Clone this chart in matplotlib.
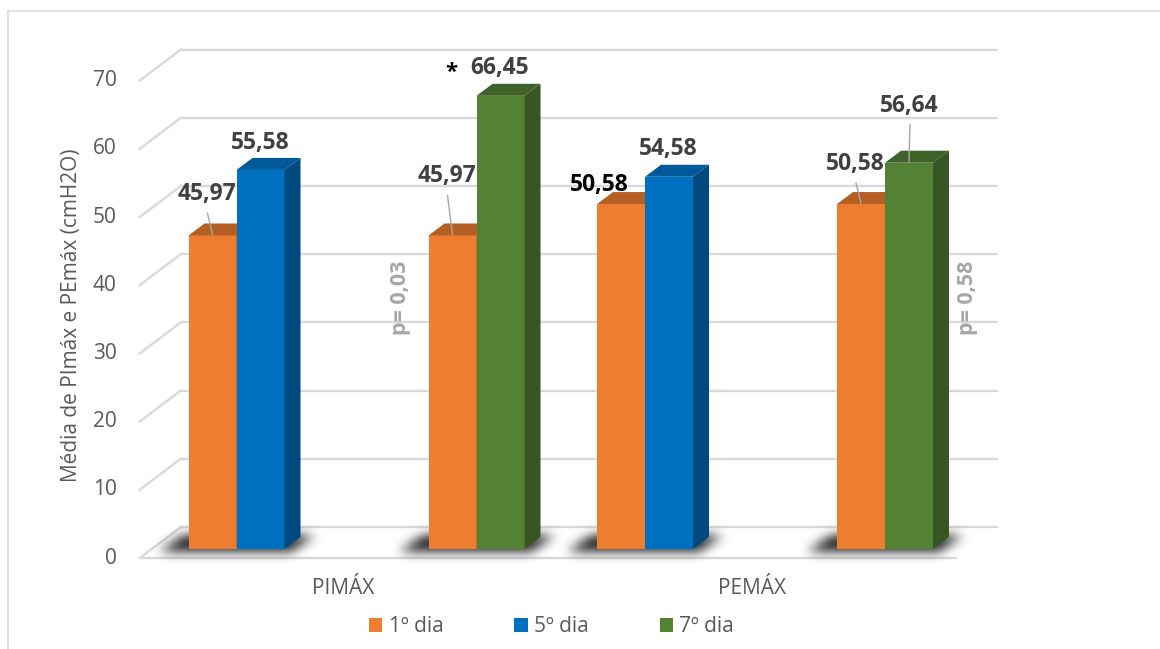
import numpy as np
import matplotlib
matplotlib.use('Agg')
import matplotlib.pyplot as plt
from matplotlib.patches import Polygon, Rectangle, Patch
from matplotlib.lines import Line2D
from matplotlib.path import Path

plt.rcParams['font.family'] = ['Open Sans', 'DejaVu Sans']

categories = ['PIMÁX', 'PEMÁX']
day_labels = ['1º dia', '5º dia', '7º dia']
# two comparisons per category: 1º vs 5º dia, then 1º vs 7º dia
first_day = [45.97, 45.97, 50.58, 50.58]
later_day = [55.58, 66.45, 54.58, 56.64]
later_series = [1, 2, 1, 2]
significant = [False, True, False, False]
p_values = ['p= 0,03', 'p= 0,58']

front_colors = ['#ED7D31', '#0070C0', '#548235']
top_colors = ['#B65F25', '#00599A', '#3E6228']
side_colors = ['#A9561F', '#004A80', '#375623']
grid_col = '#D9D9D9'
text_col = '#595959'
label_col = '#404040'

fig = plt.figure(figsize=(11.6, 6.49), dpi=100)
W, H = 1160, 649
ax = fig.add_axes([151.75 / W, 100 / H, 817 / W, 477.4 / H])
ax.set_xlim(-0.5, 1.5)
ax.set_ylim(0, 70)
ax.set_autoscale_on(False)
ax.axis('off')

# pixel -> data unit scales
p0 = ax.transData.transform((0, 0))
sx = ax.transData.transform((1, 0))[0] - p0[0]
sy = ax.transData.transform((0, 1))[1] - p0[1]
ux, uy = 1 / sx, 1 / sy

# planes of the fake 3d box, relative to the bar plane (in pixels)
fx, fy = -12 * ux, -9 * uy     # front edge
bx, by = 29 * ux, 22 * uy      # back wall
dx, dy = 16 * ux, 12 * uy      # bar depth

# back wall grid + left side lines
for v in range(0, 80, 10):
    ax.plot([-0.5 + bx, 1.5 + bx], [v + by, v + by], color=grid_col, lw=1.7,
            clip_on=False, zorder=1, solid_capstyle='butt')
    ax.plot([-0.5 + fx, -0.5 + bx], [v + fy, v + by], color=grid_col, lw=1.7,
            clip_on=False, zorder=1)
    ax.text(-0.5 + fx - 23 * ux, v + fy, str(v), ha='right', va='center',
            fontsize=15, color=text_col)
# front edge of floor
ax.plot([-0.5 + fx, 1.5 + fx], [fy, fy], color=grid_col, lw=1.7, clip_on=False,
        zorder=1, solid_capstyle='butt')

slot_w = 0.1175
slot_start = -0.41
lefts = []
for k in range(len(first_day)):
    cat, comp = divmod(k, 2)
    lefts.append(cat + slot_start + (0 if comp == 0 else 5) * slot_w)


def soft_shadow(xl, xr):
    # blurred footprint of a pair of bars, pushed to the front-left
    pts = np.array([[xl - 30 * ux, -3 * uy], [xr + 6 * ux, -3 * uy],
                    [xr + 30 * ux, 13 * uy], [xl - 6 * ux, 13 * uy]])
    pad_x, pad_y = 24 * ux, 24 * uy
    x0, x1 = pts[:, 0].min() - pad_x, pts[:, 0].max() + pad_x
    y0, y1 = pts[:, 1].min() - pad_y, pts[:, 1].max() + pad_y
    nx, ny = int((x1 - x0) * sx), int((y1 - y0) * sy)
    gx = np.linspace(x0, x1, nx)
    gy = np.linspace(y0, y1, ny)
    XX, YY = np.meshgrid(gx, gy)
    mask = Path(pts).contains_points(np.c_[XX.ravel(), YY.ravel()]).reshape(ny, nx)
    mask = mask.astype(float)
    t = np.arange(-15, 16)
    kern = np.exp(-t ** 2 / (2 * 5.5 ** 2))
    kern /= kern.sum()
    mask = np.apply_along_axis(lambda r: np.convolve(r, kern, mode='same'), 1, mask)
    mask = np.apply_along_axis(lambda c: np.convolve(c, kern, mode='same'), 0, mask)
    rgba = np.zeros((ny, nx, 4))
    rgba[..., :3] = 0.12
    rgba[..., 3] = np.clip(mask * 1.1, 0, 1) * 0.92
    im = ax.imshow(rgba, extent=(x0, x1, y0, y1), origin='lower', aspect='auto',
                   interpolation='bilinear', zorder=2)
    im.set_clip_on(False)


def box_bar(x, h, s, z):
    ax.add_patch(Rectangle((x, 0), slot_w, h, facecolor=front_colors[s],
                           edgecolor='none', zorder=z, clip_on=False))
    ax.add_patch(Polygon([(x, h), (x + slot_w, h), (x + slot_w + dx, h + dy),
                          (x + dx, h + dy)], closed=True, facecolor=top_colors[s],
                         edgecolor='none', zorder=z, clip_on=False))
    ax.add_patch(Polygon([(x + slot_w, 0), (x + slot_w, h), (x + slot_w + dx, h + dy),
                          (x + slot_w + dx, dy)], closed=True, facecolor=side_colors[s],
                         edgecolor='none', zorder=z, clip_on=False))


for k in range(len(first_day)):
    soft_shadow(lefts[k], lefts[k] + 2 * slot_w)

for k in range(len(first_day)):
    box_bar(lefts[k], first_day[k], 0, 3 + k)
    box_bar(lefts[k] + slot_w, later_day[k], later_series[k], 3 + k)

# value labels: pixel offsets from the centre of each bar's front top edge
first_off = [(-6, 41), (-6, 59), (-21.5, 19), (-6, 40)]
first_lead = [True, True, False, True]
first_color = [label_col, label_col, 'black', label_col]
later_off = [(0, 27), (-1, 27.5), (-1, 28), (0, 57)]
later_lead = [False, False, False, True]


def fmt(v):
    return f'{v:.2f}'.replace('.', ',')


def value_label(xc, h, off, lead, color):
    tx, ty = xc + off[0] * ux, h + off[1] * uy
    ax.text(tx, ty, fmt(h), ha='center', va='center', fontsize=16.5,
            fontweight='bold', color=color, zorder=20)
    if lead:
        ax.plot([tx + 1 * ux, xc], [ty - 19 * uy, h + 1 * uy], color='#A6A6A6',
                lw=1, zorder=20, clip_on=False)


for k in range(len(first_day)):
    c1 = lefts[k] + slot_w / 2
    c2 = c1 + slot_w
    value_label(c1, first_day[k], first_off[k], first_lead[k], first_color[k])
    value_label(c2, later_day[k], later_off[k], later_lead[k], label_col)
    if significant[k]:
        ax.text(c2 - 49 * ux, later_day[k] + 23 * uy, '*', ha='center', va='center',
                fontsize=16, fontweight='bold', color='black', zorder=20)

# p values beside the 1º vs 7º comparisons
p_y = 36.8
ax.text(lefts[1] - 28 * ux, p_y, p_values[0], rotation=90, ha='center', va='center',
        fontsize=15.5, fontweight='bold', color='#A6A6A6', zorder=20)
ax.text(lefts[3] + 2 * slot_w + 34 * ux, p_y, p_values[1], rotation=90, ha='center',
        va='center', fontsize=15.5, fontweight='bold', color='#A6A6A6', zorder=20)

# category names under the floor
for i, name in enumerate(categories):
    ax.text(i + fx - 1 * ux, fy - 31 * uy, name, ha='center', va='center',
            fontsize=15, color=text_col)

fig.text(72 / W, 1 - 315 / H, 'Média de PImáx e PEmáx (cmH2O)', rotation=90,
         ha='center', va='center', fontsize=15, color=text_col)

handles = [Patch(facecolor=c, edgecolor='none') for c in front_colors]
fig.legend(handles, day_labels, loc='center', bbox_to_anchor=(551.5 / W, 22 / H),
           ncol=3, frameon=False, fontsize=15, labelcolor=text_col,
           handlelength=0.65, handleheight=0.65, handletextpad=0.3,
           columnspacing=3.4)

# chart frame
fig.add_artist(Line2D([8 / W, 1], [1 - 11 / H, 1 - 11 / H], transform=fig.transFigure,
                      color=grid_col, lw=1.2))
fig.add_artist(Line2D([8 / W, 8 / W], [0, 1 - 11 / H], transform=fig.transFigure,
                      color=grid_col, lw=1.2))

fig.savefig('out.png', dpi=100)
